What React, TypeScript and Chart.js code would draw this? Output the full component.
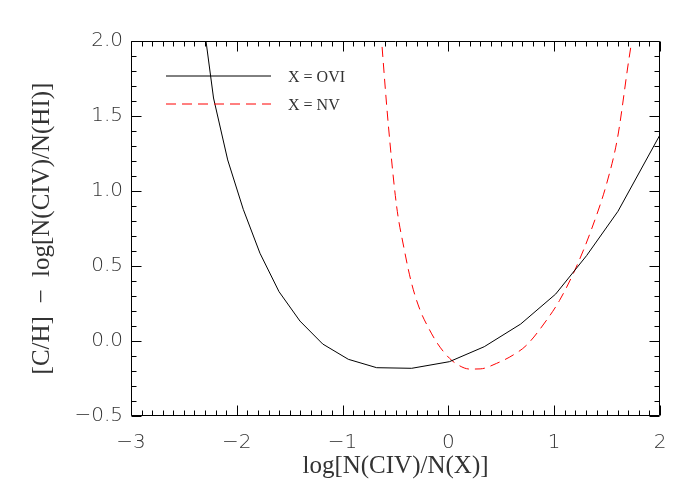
import React, { useEffect, useRef } from 'react';
import { Chart, registerables } from 'chart.js';

Chart.register(...registerables);

// ---- data ----
const oviX = [-2.34, -2.22, -2.086, -1.939, -1.781, -1.601, -1.403, -1.188, -0.946, -0.678, -0.347, 0.009, 0.339, 0.683, 1.014, 1.307, 1.603, 2.0];
const oviY = [2.26, 1.62, 1.207, 0.878, 0.585, 0.329, 0.133, -0.02, -0.122, -0.178, -0.182, -0.138, -0.038, 0.113, 0.313, 0.57, 0.865, 1.375];

const nvX = [-0.66, -0.631, -0.569, -0.489, -0.42, -0.35, -0.27, -0.19, -0.1, 0.01, 0.1, 0.2, 0.3, 0.456, 0.613, 0.74, 0.929, 1.05, 1.2, 1.35, 1.5, 1.6, 1.7, 1.732, 1.76];
const nvY = [2.28, 2.0, 1.451, 0.896, 0.62, 0.39, 0.21, 0.09, -0.02, -0.115, -0.163, -0.187, -0.186, -0.149, -0.093, -0.027, 0.14, 0.27, 0.48, 0.74, 1.06, 1.36, 1.85, 2.0, 2.16];

const seriesLabels = ['X = OVI', 'X = NV'];
const xTickValues = [-3, -2, -1, 0, 1, 2];
const xTickLabels = ['\u22123', '\u22122', '\u22121', '0', '1', '2'];
const yTickValues = [-0.5, 0, 0.5, 1, 1.5, 2];
const yTickLabels = ['\u22120.5', '0.0', '0.5', '1.0', '1.5', '2.0'];
const xTitle = 'log[N(CIV)/N(X)]';
const yTitle = '[C/H]  \u2212  log[N(CIV)/N(HI)]';

const tickFont = { family: 'DejaVu Sans', size: 20, weight: 200 as any };
const titleFont = { family: 'Liberation Serif', size: 25 };

const framePlugin = {
  id: 'idlFrame',
  afterDatasetsDraw(chart: any) {
    const { ctx, chartArea: a, scales } = chart;
    const xs = scales.x;
    const ys = scales.y;
    ctx.save();
    ctx.strokeStyle = '#000';
    ctx.lineWidth = 1;
    const L = Math.round(a.left) + 0.5;
    const R = Math.round(a.right) - 0.5;
    const T = Math.round(a.top) + 0.5;
    const B = Math.round(a.bottom) - 0.5;
    ctx.beginPath();
    ctx.rect(L, T, R - L, B - T);
    ctx.stroke();
    ctx.beginPath();
    for (let i = 0; i <= 50; i++) {
      const v = xs.min + i * 0.1;
      const px = Math.round(xs.getPixelForValue(v)) + 0.5;
      const len = i % 10 === 0 ? 10 : 5;
      ctx.moveTo(px, B); ctx.lineTo(px, B - len);
      ctx.moveTo(px, T); ctx.lineTo(px, T + len);
    }
    for (let i = 0; i <= 25; i++) {
      const v = ys.min + i * 0.1;
      const py = Math.round(ys.getPixelForValue(v)) + 0.5;
      const len = i % 5 === 0 ? 10 : 5;
      ctx.moveTo(L, py); ctx.lineTo(L + len, py);
      ctx.moveTo(R, py); ctx.lineTo(R - len, py);
    }
    ctx.stroke();
    ctx.restore();
  },
};

const legendPlugin = {
  id: 'idlLegend',
  afterDraw(chart: any) {
    const { ctx } = chart;
    const rows = [76, 104];
    ctx.save();
    chart.data.datasets.forEach((ds: any, i: number) => {
      const y = rows[i];
      ctx.beginPath();
      ctx.strokeStyle = ds.borderColor;
      ctx.lineWidth = 1;
      ctx.setLineDash(ds.borderDash || []);
      ctx.moveTo(166, y);
      ctx.lineTo(271, y);
      ctx.stroke();
      ctx.setLineDash([]);
      ctx.fillStyle = '#333';
      ctx.font = '16px "Liberation Serif"';
      ctx.textBaseline = 'middle';
      ctx.textAlign = 'left';
      ctx.fillText(ds.label, 288, y + 2);
    });
    ctx.restore();
  },
};

export default function App() {
  const ref = useRef<HTMLCanvasElement | null>(null);
  useEffect(() => {
    if (!ref.current) return;
    const chart = new Chart(ref.current, {
      type: 'line',
      data: {
        datasets: [
          {
            label: seriesLabels[0],
            data: oviX.map((x, i) => ({ x, y: oviY[i] })),
            borderColor: '#000000',
            borderWidth: 1,
            pointRadius: 0,
            tension: 0,
            fill: false,
          },
          {
            label: seriesLabels[1],
            data: nvX.map((x, i) => ({ x, y: nvY[i] })),
            borderColor: '#ff0000',
            borderWidth: 1,
            borderDash: [10, 6],
            pointRadius: 0,
            cubicInterpolationMode: 'monotone',
            fill: false,
          },
        ],
      },
      options: {
        responsive: false,
        animation: false,
        layout: { padding: { top: 41, right: 40, left: 0, bottom: 0 } },
        plugins: { legend: { display: false }, tooltip: { enabled: false } },
        scales: {
          x: {
            type: 'linear',
            min: -3,
            max: 2,
            grid: { display: false, drawTicks: false },
            border: { display: false },
            afterFit: (s: any) => { s.height = 84; },
            afterBuildTicks: (s: any) => { s.ticks = xTickValues.map((v) => ({ value: v })); },
            ticks: {
              font: tickFont,
              color: '#333',
              padding: 15,
              maxRotation: 0,
              callback: (v: any) => {
                const i = xTickValues.indexOf(Number(v));
                return i >= 0 ? xTickLabels[i] : '';
              },
            },
            title: { display: true, text: xTitle, font: titleFont, color: '#333', padding: { top: 0, bottom: 19 } },
          },
          y: {
            type: 'linear',
            min: -0.5,
            max: 2,
            grid: { display: false, drawTicks: false },
            border: { display: false },
            afterFit: (s: any) => { s.width = 131; },
            afterBuildTicks: (s: any) => { s.ticks = yTickValues.map((v) => ({ value: v })); },
            ticks: {
              font: tickFont,
              color: '#333',
              padding: 8,
              callback: (v: any) => {
                const i = yTickValues.findIndex((t) => Math.abs(t - Number(v)) < 1e-9);
                return i >= 0 ? yTickLabels[i] : '';
              },
            },
            title: { display: true, text: yTitle, font: titleFont, color: '#333', padding: { top: 27, bottom: 0 } },
          },
        },
      },
      plugins: [framePlugin, legendPlugin],
    } as any);
    return () => chart.destroy();
  }, []);
  return (
    <div style={{ position: 'fixed', left: 0, top: 0, width: 700, height: 500, background: '#fff' }}>
      <canvas ref={ref} width={700} height={500} />
    </div>
  );
}
